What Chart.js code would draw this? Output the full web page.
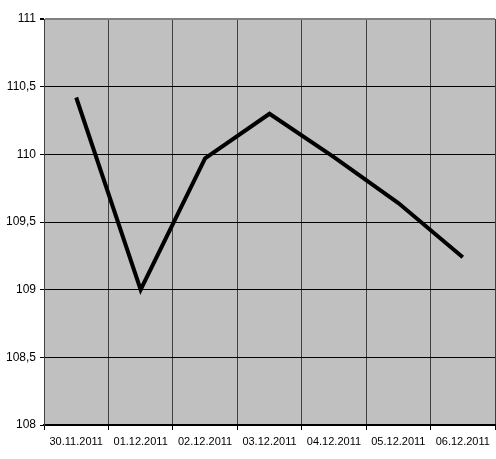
<!DOCTYPE html>
<html>
<head>
<meta charset="utf-8">
<script src="https://cdn.jsdelivr.net/npm/chart.js@4/dist/chart.umd.min.js"></script>
<style>
  html, body { margin: 0; padding: 0; background: #fff; }
  #wrap { width: 496px; height: 459px; }
</style>
</head>
<body>
<div id="wrap"><canvas id="grafico"></canvas></div>
<script>
// datos del grafico
var fechas = ['30.11.2011', '01.12.2011', '02.12.2011', '03.12.2011', '04.12.2011', '05.12.2011', '06.12.2011'];
var valores = [110.42, 109.0, 109.97, 110.30, 109.98, 109.64, 109.24];
var ejeY = [108, 108.5, 109, 109.5, 110, 110.5, 111];

// fondo gris del area de trazado
var fondoGris = {
    id: 'fondoGris',
    beforeDraw: function(chart) {
        var ctx = chart.ctx;
        var a = chart.chartArea;
        ctx.save();
        ctx.fillStyle = '#c0c0c0';
        ctx.fillRect(a.left, a.top, a.right - a.left, a.bottom - a.top);
        ctx.restore();
    }
};

var fuente = "'Liberation Sans Narrow', 'Arial Narrow', 'Liberation Sans', Arial, sans-serif";

const ctx = document.getElementById('grafico').getContext('2d');
const grafico = new Chart(ctx, {
    type: 'line',
    data: {
        labels: fechas,
        datasets: [{
            data: valores,
            borderColor: '#000000',
            borderWidth: 4,
            tension: 0,
            pointRadius: 0,
            fill: false
        }]
    },
    options: {
        responsive: true,
        maintainAspectRatio: false,
        animation: false,
        layout: { padding: { top: 19, right: 1, left: 0, bottom: 0 } },
        plugins: {
            legend: { display: false },
            tooltip: { enabled: false }
        },
        scales: {
            x: {
                offset: true,
                grid: {
                    offset: true,
                    color: function(c) { return c.index === fechas.length ? '#808080' : '#404040'; },
                    lineWidth: function(c) { return c.index === fechas.length ? 2 : 1; },
                    tickLength: 5,
                    tickColor: '#000'
                },
                border: { color: '#000', width: 2 },
                ticks: {
                    color: '#000',
                    padding: 5,
                    maxRotation: 0,
                    autoSkip: false,
                    font: { family: fuente, size: 11 }
                },
                afterFit: function(scale) { scale.height = 34; }
            },
            y: {
                min: 108,
                max: 111,
                afterBuildTicks: function(scale) {
                    scale.ticks = ejeY.map(function(v) { return { value: v }; });
                },
                grid: {
                    color: function(c) { return c.tick && c.tick.value === 111 ? '#808080' : '#000'; },
                    lineWidth: function(c) { return c.tick && c.tick.value === 111 ? 2 : 1; },
                    tickLength: 4,
                    tickColor: '#000'
                },
                border: { color: '#404040', width: 1 },
                ticks: {
                    color: '#000',
                    padding: 4,
                    font: { family: fuente, size: 12 },
                    callback: function(v) { return String(v).replace('.', ','); }
                },
                afterFit: function(scale) { scale.width = 44; }
            }
        }
    },
    plugins: [fondoGris]
});
</script>
</body>
</html>
